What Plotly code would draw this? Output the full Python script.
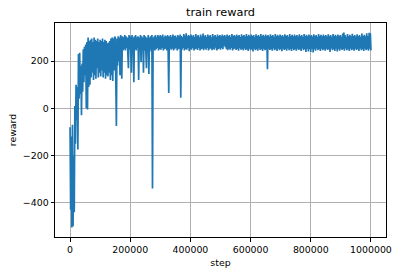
import plotly.graph_objects as go

# x: logged training step (every 2000 steps)
step_interval = 2000
# y: episode reward, 25 values per 50000 steps
rewards_000 = [-80, -430, -120, -505, -70, -500, -200, -440, 10, -150, 100, -50, 90, -175, 230, 40, 235, 60, 180, -30, 190, 70, 250, 110, 260]
rewards_050 = [140, 270, 0, 280, -5, 300, 90, 285, 100, 290, 130, 295, 150, 280, 120, 300, 140, 290, 125, 285, 170, 295, 130, 280, 150]
rewards_100 = [290, 135, 285, 160, 295, 130, 280, 150, 290, 125, 285, 140, 275, 135, 278, 150, 285, 120, 295, 140, 300, 115, 295, 160, 300]
rewards_150 = [300, 130, -75, 295, 180, 305, 200, 300, 140, 310, 250, 125, 305, 245, 300, 250, 310, 245, 305, 255, 300, 245, 170, 310, 250]
rewards_200 = [305, 245, 150, 310, 250, 300, 110, 305, 250, 310, 245, 300, 255, 305, 120, 300, 245, 310, 195, 305, 250, 300, 150, 310, 245]
rewards_250 = [305, 250, 170, 300, 245, 310, 145, 300, 250, 305, 240, 310, -340, 300, 250, 305, 245, 310, 250, 300, 255, 310, 245, 305, 250]
rewards_300 = [310, 248, 305, 255, 312, 245, 300, 250, 308, 252, 305, 245, 310, 250, 65, 305, 255, 310, 248, 302, 252, 312, 245, 306, 250]
rewards_350 = [308, 255, 300, 245, 310, 250, 305, 252, 312, 45, 306, 248, 300, 255, 314, 245, 308, 250, 318, 248, 305, 255, 310, 242, 306]
rewards_400 = [250, 312, 248, 305, 255, 310, 245, 302, 250, 314, 252, 306, 247, 310, 255, 300, 245, 312, 250, 305, 252, 316, 246, 306, 253]
rewards_450 = [310, 248, 302, 255, 312, 245, 306, 250, 310, 254, 300, 246, 314, 251, 305, 248, 310, 256, 303, 245, 312, 250, 306, 253, 310]
rewards_500 = [248, 305, 255, 312, 250, 306, 265, 310, 258, 304, 250, 312, 246, 306, 252, 310, 248, 302, 255, 314, 245, 306, 250, 310, 253]
rewards_550 = [305, 247, 312, 251, 306, 244, 310, 254, 302, 248, 313, 250, 306, 245, 310, 253, 304, 247, 314, 250, 306, 243, 311, 252, 305]
rewards_600 = [246, 312, 250, 306, 240, 310, 252, 303, 246, 313, 250, 306, 244, 310, 253, 304, 247, 314, 250, 306, 243, 311, 252, 305, 246]
rewards_650 = [312, 250, 306, 165, 310, 252, 304, 247, 313, 250, 306, 244, 310, 253, 303, 246, 314, 250, 306, 243, 311, 252, 305, 246, 312]
rewards_700 = [250, 306, 242, 310, 252, 304, 247, 313, 250, 306, 244, 310, 253, 303, 246, 314, 250, 306, 243, 311, 252, 305, 246, 312, 250]
rewards_750 = [306, 244, 310, 252, 304, 247, 313, 250, 306, 243, 310, 253, 303, 246, 314, 250, 306, 238, 311, 252, 305, 240, 312, 250, 306]
rewards_800 = [238, 310, 252, 304, 236, 313, 250, 306, 244, 310, 253, 303, 246, 314, 250, 306, 243, 311, 252, 305, 246, 312, 250, 306, 244]
rewards_850 = [310, 252, 304, 247, 313, 250, 306, 238, 310, 253, 303, 246, 314, 250, 306, 243, 311, 252, 305, 240, 312, 250, 306, 244, 310]
rewards_900 = [252, 304, 247, 316, 250, 321, 244, 310, 253, 303, 246, 314, 250, 306, 243, 311, 252, 305, 246, 315, 250, 306, 244, 310, 252]
rewards_950 = [304, 247, 313, 250, 306, 243, 310, 253, 303, 246, 316, 250, 306, 243, 311, 252, 305, 246, 318, 250, 306, 244, 320, 252, 318]
rewards_end = [245]

rewards = (rewards_000 + rewards_050 + rewards_100 + rewards_150 + rewards_200
           + rewards_250 + rewards_300 + rewards_350 + rewards_400 + rewards_450
           + rewards_500 + rewards_550 + rewards_600 + rewards_650 + rewards_700
           + rewards_750 + rewards_800 + rewards_850 + rewards_900 + rewards_950
           + rewards_end)
steps = [i * step_interval for i in range(len(rewards))]

x_ticks = [0, 200000, 400000, 600000, 800000, 1000000]
y_ticks = [-400, -200, 0, 200]

font = "DejaVu Sans"
fig = go.Figure()
fig.add_trace(go.Scatter(x=steps, y=rewards, mode="lines",
                         line=dict(color="#1f77b4", width=1.7),
                         showlegend=False, hoverinfo="skip"))

axis_common = dict(showline=True, linecolor="black", linewidth=1, mirror=True,
                   showgrid=True, gridcolor="#b0b0b0", gridwidth=1,
                   ticks="outside", ticklen=3.5, tickwidth=1, tickcolor="black",
                   zeroline=False,
                   tickfont=dict(family=font, size=9.4, color="black"))

fig.update_xaxes(range=[-50000, 1050000], tickvals=x_ticks, tickformat="d",
                 title=dict(text="step", standoff=5,
                            font=dict(family=font, size=9.4, color="black")),
                 **axis_common)
fig.update_yaxes(range=[-545, 361], tickvals=y_ticks,
                 title=dict(text="reward", standoff=4,
                            font=dict(family=font, size=9.4, color="black")),
                 **axis_common)

fig.update_layout(
    width=404, height=278,
    margin=dict(l=55, r=13.3, t=22.7, b=38, pad=0),
    paper_bgcolor="white", plot_bgcolor="white",
    title=dict(text="train reward", x=0.5, xref="paper", xanchor="center",
               y=1 - 12.3 / 278, yref="container", yanchor="middle",
               font=dict(family=font, size=11.3, color="black")),
)

fig.write_html("out.html", config={"displayModeBar": False})
